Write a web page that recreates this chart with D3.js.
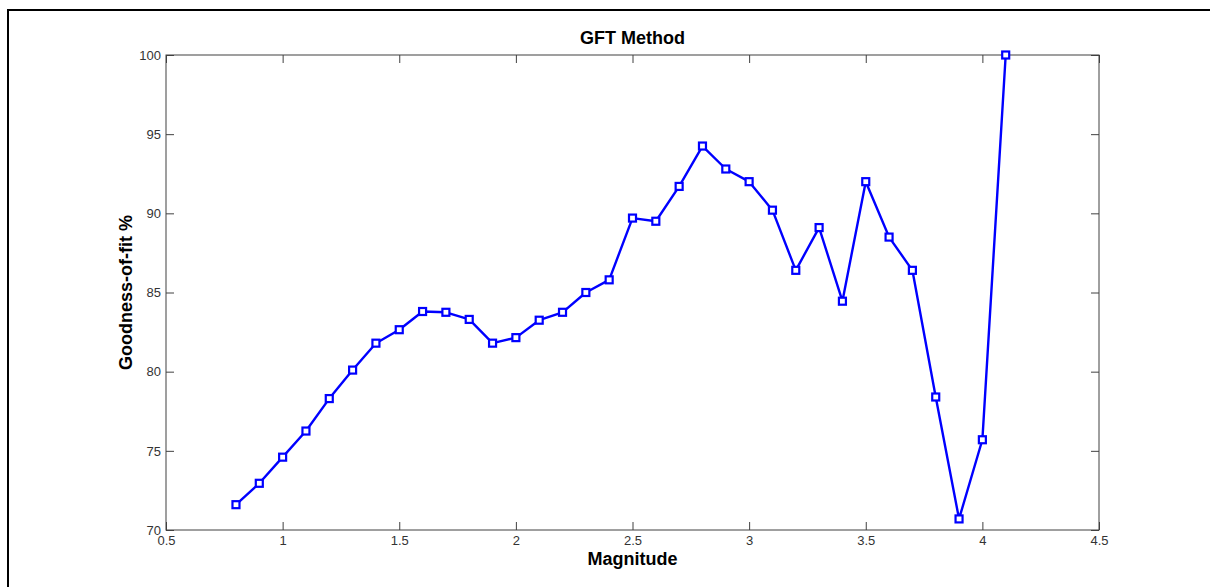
<!DOCTYPE html>
<html>
<head>
<meta charset="utf-8">
<script src="https://cdn.jsdelivr.net/npm/d3@7"></script>
<style>
  body { margin: 0; background: #fff; }
  svg text { font-family: "Liberation Sans", Arial, sans-serif; }
</style>
</head>
<body>
<div id="chart"></div>
<script>
var magnitude = [0.8, 0.9, 1.0, 1.1, 1.2, 1.3, 1.4, 1.5, 1.6, 1.7, 1.8, 1.9, 2.0, 2.1, 2.2, 2.3, 2.4,
                 2.5, 2.6, 2.7, 2.8, 2.9, 3.0, 3.1, 3.2, 3.3, 3.4, 3.5, 3.6, 3.7, 3.8, 3.9, 4.0, 4.1];
var goodness = [71.6, 72.95, 74.6, 76.25, 78.3, 80.1, 81.8, 82.65, 83.8, 83.75, 83.3, 81.8, 82.15, 83.25, 83.75, 85.0, 85.8,
                89.7, 89.5, 91.7, 94.25, 92.8, 92.0, 90.2, 86.4, 89.1, 84.45, 92.0, 88.5, 86.4, 78.4, 70.7, 75.7, 100];
var xTicks = [0.5, 1, 1.5, 2, 2.5, 3, 3.5, 4, 4.5];
var yTicks = [70, 75, 80, 85, 90, 95, 100];

var W = 1210, H = 587;
var margin = {top: 55, right: 111, bottom: 57, left: 166};
var width = W - margin.left - margin.right,
    height = H - margin.top - margin.bottom;

var svg = d3.select("#chart").append("svg")
  .attr("width", W)
  .attr("height", H);

// outer figure frame (only top/left visible)
svg.append("rect")
  .attr("x", 8).attr("y", 10)
  .attr("width", W + 20).attr("height", H + 20)
  .attr("fill", "none")
  .attr("stroke", "#000")
  .attr("stroke-width", 2);

var g = svg.append("g")
  .attr("transform", "translate(" + margin.left + "," + margin.top + ")");

var x = d3.scaleLinear().domain([0.5, 4.5]).range([0, width]);
var y = d3.scaleLinear().domain([70, 100]).range([height, 0]);

var axisColor = "#404040";

// ticks on all four sides, pointing inwards
function styleAxis(sel) {
  sel.select(".domain").remove();
  sel.selectAll(".tick line").attr("stroke", axisColor);
  sel.selectAll(".tick text").attr("fill", "#333").style("font-size", "13px");
}

g.append("g")
  .attr("transform", "translate(0," + height + ")")
  .call(d3.axisBottom(x).tickValues(xTicks).tickSize(-8).tickPadding(6).tickFormat(d3.format("")))
  .call(styleAxis);

g.append("g")
  .call(d3.axisTop(x).tickValues(xTicks).tickSize(-8).tickFormat(""))
  .call(styleAxis);

g.append("g")
  .call(d3.axisLeft(y).tickValues(yTicks).tickSize(-8).tickPadding(5))
  .call(styleAxis);

g.append("g")
  .attr("transform", "translate(" + width + ",0)")
  .call(d3.axisRight(y).tickValues(yTicks).tickSize(-8).tickFormat(""))
  .call(styleAxis);

// plot box
g.append("rect")
  .attr("width", width).attr("height", height)
  .attr("fill", "none")
  .attr("stroke", axisColor)
  .attr("stroke-width", 1);

var data = magnitude.map(function(m, i) { return {m: m, v: goodness[i]}; });

var line = d3.line()
  .x(function(d) { return x(d.m); })
  .y(function(d) { return y(d.v); });

g.append("path")
  .datum(data)
  .attr("d", line)
  .attr("fill", "none")
  .attr("stroke", "#0000ff")
  .attr("stroke-width", 2.4)
  .attr("stroke-linejoin", "round");

g.selectAll(".marker")
  .data(data)
  .enter().append("rect")
  .attr("class", "marker")
  .attr("x", function(d) { return x(d.m) - 3.5; })
  .attr("y", function(d) { return y(d.v) - 3.5; })
  .attr("width", 7).attr("height", 7)
  .attr("fill", "#fff")
  .attr("stroke", "#0000ff")
  .attr("stroke-width", 2.2);

// title and axis labels
svg.append("text")
  .attr("x", margin.left + width / 2)
  .attr("y", 44)
  .attr("text-anchor", "middle")
  .style("font-size", "18px")
  .style("font-weight", "bold")
  .text("GFT Method");

svg.append("text")
  .attr("x", margin.left + width / 2)
  .attr("y", 565)
  .attr("text-anchor", "middle")
  .style("font-size", "18px")
  .style("font-weight", "bold")
  .text("Magnitude");

svg.append("text")
  .attr("transform", "translate(132," + (margin.top + height / 2) + ") rotate(-90)")
  .attr("text-anchor", "middle")
  .style("font-size", "18px")
  .style("font-weight", "bold")
  .text("Goodness-of-fit %");
</script>
</body>
</html>
